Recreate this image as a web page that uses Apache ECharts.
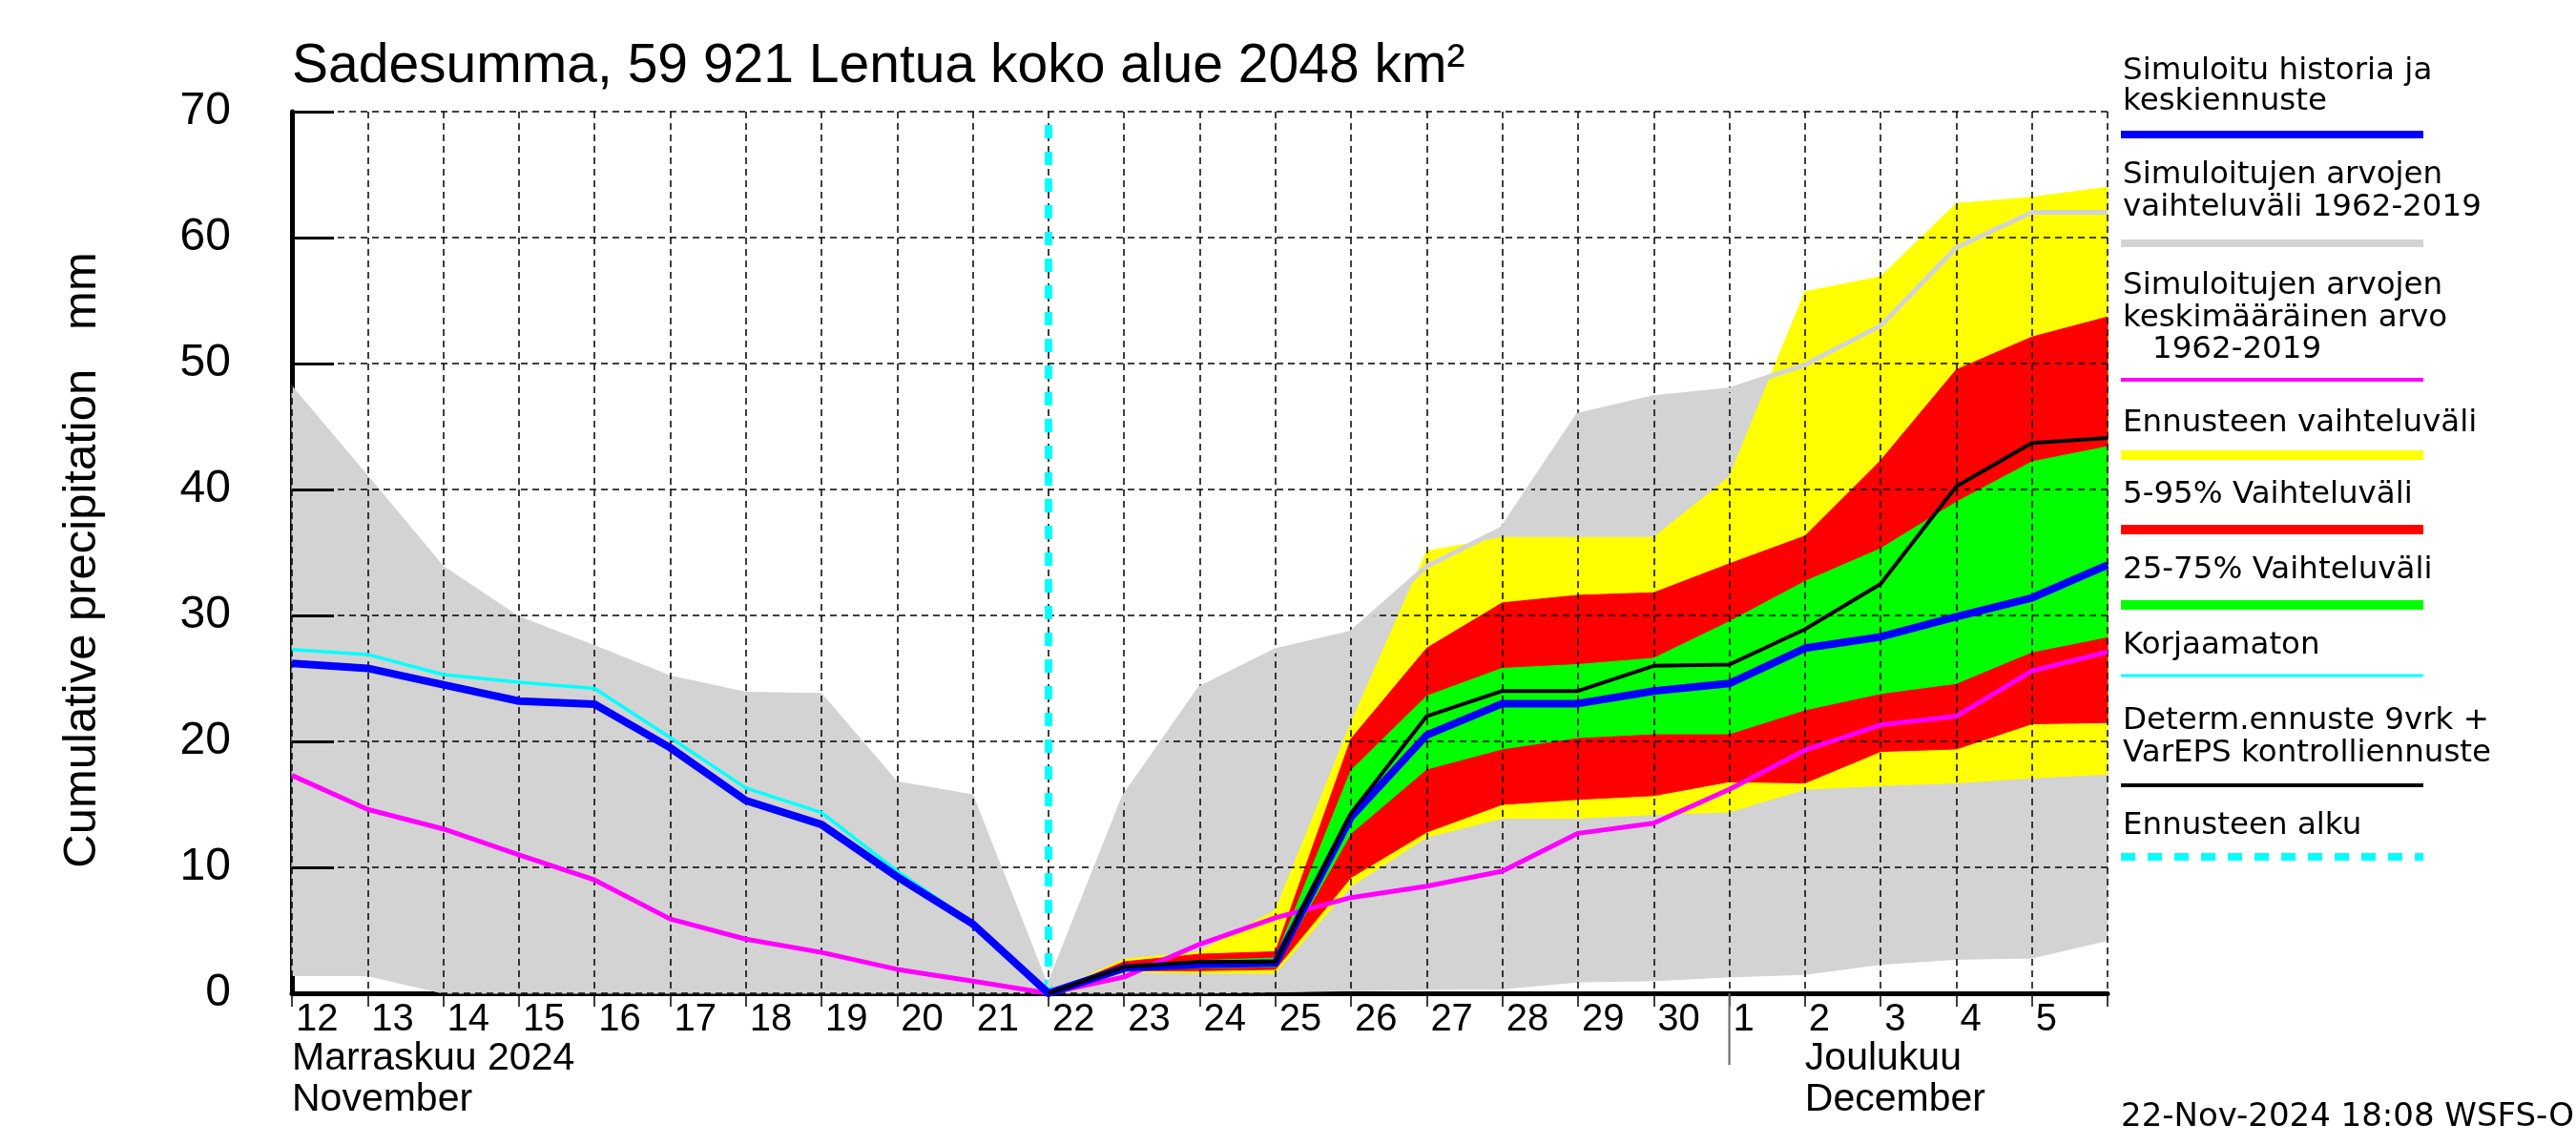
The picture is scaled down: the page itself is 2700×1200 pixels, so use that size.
<!DOCTYPE html>
<html><head><meta charset="utf-8">
<script src="https://cdn.jsdelivr.net/npm/echarts@6/dist/echarts.min.js"></script>
<style>html,body{margin:0;padding:0;background:#fff}#c{width:2700px;height:1200px}</style>
</head><body><div id="c"></div>
<script>
// ---- data ----
const dayLabels = ['12','13','14','15','16','17','18','19','20','21','22','23','24','25','26','27','28','29','30','1','2','3','4','5'];
const monthLabels = [{ idx: 0, lines: ['Marraskuu 2024', 'November'] }, { idx: 20, lines: ['Joulukuu', 'December'] }];
const monthBoundaryIdx = 19;
const forecastStart = 10;

// simulated history + mean forecast (blue)
const simMean = [26.2, 25.8, 24.5, 23.2, 22.95, 19.5, 15.3, 13.4, 9.25, 5.5, 0, 2.0, 2.3, 2.4, 14.0, 20.5, 23.0, 23.0, 24.0, 24.6, 27.4, 28.3, 29.9, 31.4, 34.0];
// uncorrected (cyan), history part only
const uncorrected = [27.3, 26.9, 25.3, 24.7, 24.2, 20.3, 16.3, 14.35, 9.7, 5.6, 0];
// climatological mean 1962-2019 (magenta)
const climMean = [17.3, 14.6, 13.05, 11.0, 9.0, 5.9, 4.3, 3.25, 1.9, 0.97, 0, 1.3, 3.9, 6.0, 7.6, 8.5, 9.7, 12.7, 13.5, 16.2, 19.3, 21.3, 22.0, 25.6, 27.1];
// climatological range 1962-2019 (gray)
const climMax = [48.2, 41.1, 33.9, 29.9, 27.6, 25.2, 23.9, 23.8, 16.8, 15.75, 0.5, 15.6, 24.2, 27.2, 28.6, 33.9, 36.9, 45.9, 47.3, 47.9, 49.9, 53.0, 59.2, 62.0, 62.0];
const climMin = [1.4, 1.4, 0, 0, 0, 0, 0, 0, 0, 0, 0, 0, 0, 0.1, 0.2, 0.3, 0.35, 0.9, 1.0, 1.3, 1.5, 2.3, 2.7, 2.8, 4.2];
// forecast, from forecastStart onwards
const ensMax = [0, 2.7, 3.3, 6.6, 21.5, 35.1, 36.2, 36.2, 36.2, 41.0, 55.7, 56.9, 62.7, 63.2, 64.0];
const ensMin = [0, 1.7, 1.6, 1.6, 8.5, 12.4, 13.9, 13.9, 14.2, 14.4, 16.2, 16.5, 16.7, 17.1, 17.4];
const p95 = [0, 2.5, 3.1, 3.3, 20.2, 27.4, 31.0, 31.6, 31.8, 34.1, 36.3, 42.3, 49.5, 52.1, 53.7];
const p05 = [0, 1.8, 1.8, 1.9, 9.2, 12.8, 15.0, 15.4, 15.7, 16.8, 16.7, 19.2, 19.4, 21.4, 21.5];
const p75 = [0, 2.2, 2.6, 2.8, 17.7, 23.6, 25.8, 26.1, 26.6, 29.5, 32.7, 35.3, 39.0, 42.2, 43.4];
const p25 = [0, 1.9, 2.0, 2.1, 12.7, 17.8, 19.4, 20.3, 20.6, 20.6, 22.5, 23.8, 24.6, 27.1, 28.3];
const determ = [0, 2.1, 2.5, 2.5, 14.3, 22.0, 24.0, 24.0, 26.0, 26.1, 28.9, 32.5, 40.25, 43.7, 44.1];

const titleText = 'Sadesumma, 59 921 Lentua koko alue 2048 km²';
const yName = 'Cumulative precipitation   mm';
const stamp = '22-Nov-2024 18:08 WSFS-O';
const legendItems = [
  { lines: ['Simuloitu historia ja', 'keskiennuste'], color: '#0000ff', width: 8 },
  { lines: ['Simuloitujen arvojen', 'vaihteluväli 1962-2019'], color: '#d3d3d3', width: 8 },
  { lines: ['Simuloitujen arvojen', 'keskimääräinen arvo', '   1962-2019'], color: '#ff00ff', width: 4 },
  { lines: ['Ennusteen vaihteluväli'], color: '#ffff00', width: 10 },
  { lines: ['5-95% Vaihteluväli'], color: '#ff0000', width: 10 },
  { lines: ['25-75% Vaihteluväli'], color: '#00ff00', width: 10 },
  { lines: ['Korjaamaton'], color: '#00ffff', width: 3 },
  { lines: ['Determ.ennuste 9vrk +', 'VarEPS kontrolliennuste'], color: '#000000', width: 4 },
  { lines: ['Ennusteen alku'], color: '#00ffff', width: 8, dash: [15, 13] }
];
// legend layout (pixel rows): text rows and swatch row per item
const legendLayout = [
  { text: [75, 107], line: 141 },
  { text: [184, 218], line: 255 },
  { text: [300, 334, 367], line: 398 },
  { text: [444], line: 477 },
  { text: [519], line: 555 },
  { text: [598], line: 634 },
  { text: [677], line: 708 },
  { text: [756, 790], line: 823 },
  { text: [866], line: 898 }
];

// ---- build ----
const SANS = '"Liberation Sans", Arial, Helvetica, sans-serif';
const WIDE = '"DejaVu Sans", sans-serif';
const pts = (arr, start) => arr.map((v, i) => [start + i, v]);

function band(name, lo, hi, start, color) {
  const data = [];
  for (let i = 0; i < lo.length - 1; i++) {
    data.push([start + i, lo[i], hi[i], start + i + 1, lo[i + 1], hi[i + 1]]);
  }
  return {
    type: 'custom', name: name, silent: true, z: 2, data: data,
    encode: { x: [0, 3], y: [1, 2, 4, 5] },
    renderItem: (params, api) => {
      const a = api.coord([api.value(0), api.value(1)]);
      const b = api.coord([api.value(3), api.value(4)]);
      const c = api.coord([api.value(3), api.value(5)]);
      const d = api.coord([api.value(0), api.value(2)]);
      return { type: 'polygon', shape: { points: [a, b, c, d] },
        style: { fill: color, stroke: color, lineWidth: 1 } };
    }
  };
}
function line(name, arr, start, color, width, z) {
  return { type: 'line', name: name, data: pts(arr, start), symbol: 'none', silent: true,
    lineStyle: { color: color, width: width, join: 'round' }, z: z || 12 };
}

const series = [
  band('clim', climMin, climMax, 0, '#d3d3d3'),
  band('ens', ensMin, ensMax, forecastStart, '#ffff00'),
  band('p5_95', p05, p95, forecastStart, '#ff0000'),
  band('p25_75', p25, p75, forecastStart, '#00ff00'),
  line('climMaxLine', climMax.slice(forecastStart), forecastStart, '#d3d3d3', 5, 11),
  line('climMean', climMean, 0, '#ff00ff', 5),
  line('uncorrected', uncorrected, 0, '#00ffff', 3.5),
  line('simMean', simMean, 0, '#0000ff', 8),
  Object.assign(line('determ', determ, forecastStart, '#000000', 4, 13), {
    markLine: { silent: true, symbol: 'none', label: { show: false }, animation: false,
      lineStyle: { color: '#00ffff', width: 8, type: [14, 14] },
      data: [{ xAxis: forecastStart }] }
  })
];

const grid = { left: 306, top: 117, width: 1903, height: 924 };
const xBase = { type: 'value', min: 0, max: dayLabels.length, interval: 1, gridIndex: 0 };
const yBase = { type: 'value', min: 0, max: 70, interval: 10, gridIndex: 0 };
const gridLineStyle = { color: '#000', width: 1.5, type: [7, 5] };

const chart = echarts.init(document.getElementById('c'), null, { renderer: 'canvas' });
chart.setOption({
  animation: false,
  backgroundColor: '#fff',
  grid: grid,
  xAxis: [
    Object.assign({}, xBase, { position: 'bottom', z: 0,
      axisLine: { show: true, onZero: false, lineStyle: { color: '#000', width: 5 } },
      axisTick: { show: true, inside: false, length: 14, lineStyle: { color: '#000', width: 1.5 } },
      axisLabel: { show: true, margin: 8, align: 'left', padding: [0, 0, 0, 4], color: '#000',
        fontFamily: SANS, fontSize: 40, formatter: v => dayLabels[v] !== undefined ? dayLabels[v] : '' },
      splitLine: { show: false } }),
    Object.assign({}, xBase, { position: 'bottom', z: 5,
      axisLine: { show: false }, axisTick: { show: false }, axisLabel: { show: false },
      splitLine: { show: true, lineStyle: gridLineStyle } })
  ],
  yAxis: [
    Object.assign({}, yBase, { position: 'left', z: 0,
      axisLine: { show: true, onZero: false, lineStyle: { color: '#000', width: 5 } },
      axisTick: { show: false },
      axisLabel: { show: true, margin: 64, color: '#000', fontFamily: SANS, fontSize: 48 },
      splitLine: { show: false } }),
    Object.assign({}, yBase, { position: 'left', z: 5,
      axisLine: { show: false },
      axisTick: { show: true, inside: true, length: 44, lineStyle: { color: '#000', width: 3 } },
      axisLabel: { show: false },
      splitLine: { show: true, lineStyle: gridLineStyle } })
  ],
  series: series
});

// ---- texts / legend (graphic) ----
const px = (x, y) => chart.convertToPixel({ xAxisIndex: 0, yAxisIndex: 0 }, [x, y]);
const g = [];
const txt = (x, y, text, font, size, align, extra) => Object.assign({
  type: 'text', x: x, y: y, silent: true, z: 100,
  style: { text: text, fill: '#000', font: size + 'px ' + font, align: align || 'left', verticalAlign: 'middle' }
}, extra || {});

const origin = px(0, 0);
const topLeft = px(0, 70);
// title
g.push(txt(origin[0], 70, titleText, SANS, 57, 'left'));
// y axis name
g.push(txt(86, (origin[1] + topLeft[1]) / 2 + 8, yName, SANS, 49, 'center', { rotation: Math.PI / 2 }));
// month labels
monthLabels.forEach(m => {
  const p = px(m.idx, 0);
  m.lines.forEach((t, k) => g.push(txt(p[0], 1110 + k * 43, t, SANS, 41, 'left')));
});
// month boundary line
const mb = px(monthBoundaryIdx, 0);
g.push({ type: 'line', silent: true, z: 100, shape: { x1: mb[0], y1: mb[1], x2: mb[0], y2: 1116 },
  style: { stroke: '#666', lineWidth: 2 } });
// legend
const LX = 2223, LX2 = 2540;
legendItems.forEach((it, n) => {
  const L = legendLayout[n];
  it.lines.forEach((t, k) => g.push(txt(LX + 2, L.text[k], t, WIDE, 32.5, 'left')));
  g.push({ type: 'line', silent: true, z: 100, shape: { x1: LX, y1: L.line, x2: LX2, y2: L.line },
    style: { stroke: it.color, lineWidth: it.width, lineDash: it.dash || null } });
});
g.push(txt(LX, 1171, stamp, WIDE, 34, 'left'));

chart.setOption({ graphic: g });
</script>
</body></html>
